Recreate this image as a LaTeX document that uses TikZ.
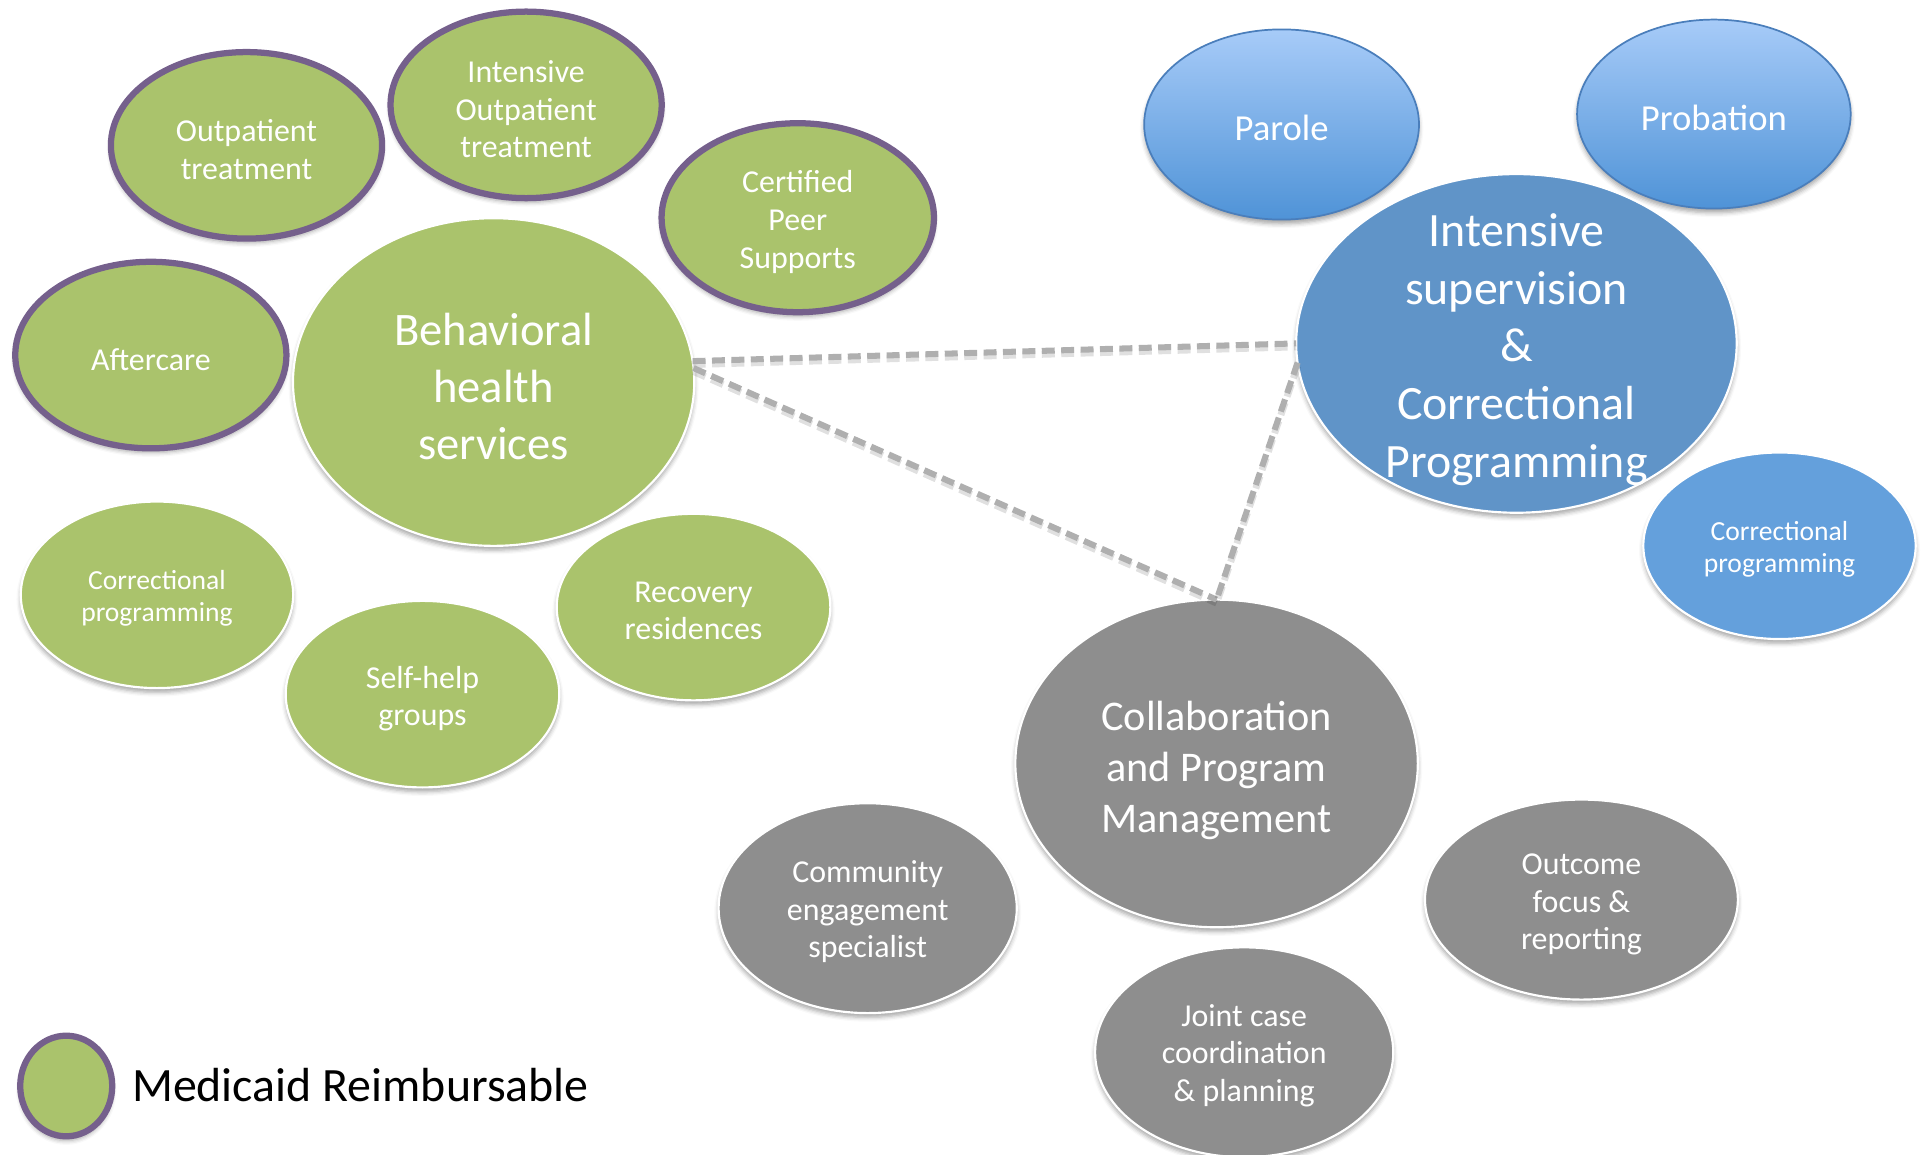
\documentclass[tikz,border=0pt]{standalone}
\usepackage{fontspec}
\setmainfont{Carlito}
\usetikzlibrary{shapes.geometric,shadows.blur}
\definecolor{bhgreen}{RGB}{170,195,108}
\definecolor{mpurple}{RGB}{117,96,140}
\definecolor{cgray}{RGB}{142,142,142}
\definecolor{isblue}{RGB}{96,148,200}
\definecolor{cpblue}{RGB}{100,160,220}
\definecolor{ptop}{RGB}{167,203,248}
\definecolor{pbot}{RGB}{79,147,215}
\definecolor{pborder}{RGB}{74,126,187}
\definecolor{dashgray}{RGB}{175,175,175}
\tikzset{
  bub/.style={ellipse, inner sep=0pt, outer sep=0pt,
    blur shadow={shadow xshift=0pt, shadow yshift=-0.035cm, shadow blur radius=0.035cm, shadow opacity=35}},
  sz/.style 2 args={minimum width=#1cm, minimum height=#2cm},
  greenb/.style={bub, fill=bhgreen, draw=white, line width=0.5pt},
  medi/.style={bub, fill=bhgreen, draw=mpurple, line width=1.45pt},
  grayb/.style={bub, fill=cgray, draw=white, line width=0.5pt},
  gradb/.style={bub, top color=ptop, bottom color=pbot, draw=pborder, line width=0.4pt},
  isb/.style={bub, fill=isblue, draw=white, line width=0.5pt},
  cpb/.style={bub, fill=cpblue, draw=white, line width=0.5pt},
  lbl/.style={text=white, align=center, inner sep=0pt, font=\fontsize{7.4}{8.7}\selectfont},
  lblsm/.style={lbl, font=\fontsize{6.4}{7.4}\selectfont},
  lblmd/.style={lbl, font=\fontsize{8.5}{10}\selectfont},
  lblbh/.style={lbl, font=\fontsize{10.8}{13.2}\selectfont},
  lblis/.style={lbl, font=\fontsize{11.1}{13.4}\selectfont},
  lblcp/.style={lbl, font=\fontsize{9.8}{11.8}\selectfont},
  link/.style={draw=dashgray, line width=1.4pt, dash pattern=on 3pt off 1.5pt,
    preaction={draw=black, opacity=0.12, line width=1.6pt, dash pattern=on 3pt off 1.5pt, transform canvas={yshift=-0.8pt}}},
}
\begin{document}
\begin{tikzpicture}[x=0.01cm, y=-0.01cm]
\useasboundingbox (0,0) rectangle (1568,941);

% green cluster
\node[medi, sz={2.21}{1.52}] (outp) at (201,118.5) {};
\node[lbl] (outp-t) at (201,122) {Outpatient\\treatment};
\node[medi, sz={2.21}{1.52}] (iop) at (429,85.5) {};
\node[lbl] (iop-t) at (429,89) {Intensive\\Outpatient\\treatment};
\node[medi, sz={2.22}{1.54}] (cps) at (650.5,177.5) {};
\node[lbl] (cps-t) at (650.5,181) {Certified\\Peer\\Supports};
\node[medi, sz={2.21}{1.52}] (after) at (123,289.5) {};
\node[lbl] (after-t) at (123,293) {Aftercare};
\node[greenb, sz={3.27}{2.67}] (bhs) at (402.5,311.5) {};
\node[lblbh] (bhs-t) at (402.5,315) {Behavioral\\health\\services};
\node[greenb, sz={2.22}{1.52}] (cpg) at (128,485) {};
\node[lblsm] (cpg-t) at (128,488) {Correctional\\programming};
\node[greenb, sz={2.23}{1.52}] (shg) at (344.5,566) {};
\node[lbl] (shg-t) at (344.5,569.5) {Self-help\\groups};
\node[greenb, sz={2.23}{1.52}] (rr) at (565.5,495) {};
\node[lbl] (rr-t) at (565.5,498) {Recovery\\residences};

% blue cluster
\node[gradb, sz={2.24}{1.55}] (parole) at (1045,101.5) {};
\node[lblmd] (parole-t) at (1045,104.5) {Parole};
\node[gradb, sz={2.23}{1.54}] (prob) at (1397.5,93) {};
\node[lblmd] (prob-t) at (1397.5,96.5) {Probation};
\node[isb, sz={3.59}{2.76}] (isc) at (1236.5,280) {};
\node[lblis] (isc-t) at (1236.5,285) {Intensive\\supervision\\\&\\Correctional\\Programming};
\node[cpb, sz={2.22}{1.52}] (cpb) at (1451,445) {};
\node[lblsm] (cpb-t) at (1451,448) {Correctional\\programming};

% gray cluster
\node[grayb, sz={3.28}{2.67}] (cpm) at (992,622.5) {};
\node[lblcp] (cpm-t) at (992,628) {Collaboration\\and Program\\Management};
\node[grayb, sz={2.43}{1.71}] (ces) at (707.5,740.5) {};
\node[lbl] (ces-t) at (707.5,743.5) {Community\\engagement\\specialist};
\node[grayb, sz={2.43}{1.71}] (jcc) at (1014.5,858) {};
\node[lbl] (jcc-t) at (1014.5,860.5) {Joint case\\coordination\\\& planning};
\node[grayb, sz={2.55}{1.63}] (ofr) at (1289.5,733.5) {};
\node[lbl] (ofr-t) at (1289.5,737.5) {Outcome\\focus \&\\reporting};

% connectors
\draw[link] (bhs.6.5) -- (isc.west);
\draw[link] (bhs.4.5) -- (cpm.north);
\draw[link] (isc.185) -- (cpm.north);

% legend
\node[medi, sz={0.75}{0.82}] (legend) at (54,885.5) {};
\node[anchor=west, inner sep=0pt, font=\fontsize{11.1}{13}\selectfont] (legend-t) at (107,885) {Medicaid Reimbursable};
\end{tikzpicture}
\end{document}
